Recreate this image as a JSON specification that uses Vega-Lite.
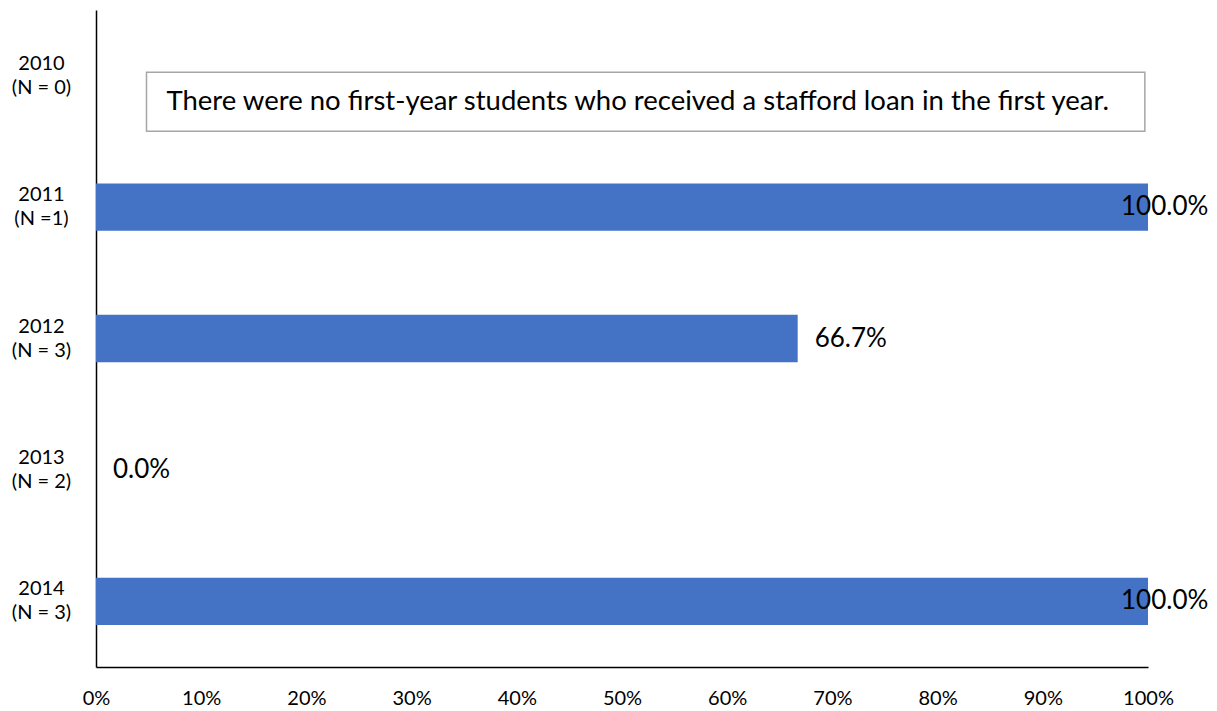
{
  "$schema": "https://vega.github.io/schema/vega-lite/v6.json",
  "width": 1052,
  "height": 657,
  "autosize": "none",
  "padding": {"left": 96, "top": 10, "right": 69, "bottom": 44},
  "background": "white",
  "config": {"view": {"stroke": null}, "font": "Lato"},
  "datasets": {
    "bars": [
      {"cat": "2011|(N =1)", "pct": 1.0, "label": "100.0%"},
      {"cat": "2012|(N = 3)", "pct": 0.667, "label": "66.7%"},
      {"cat": "2013|(N = 2)", "pct": 0.0, "label": "0.0%"},
      {"cat": "2014|(N = 3)", "pct": 1.0, "label": "100.0%"}
    ],
    "note": [
      {"cat": "2010|(N = 0)", "start": 0.048, "end": 0.997, "text": "There were no first-year students who received a stafford loan in the first year."}
    ]
  },
  "encoding": {
    "y": {
      "field": "cat", "type": "nominal",
      "scale": {"domain": ["2010|(N = 0)", "2011|(N =1)", "2012|(N = 3)", "2013|(N = 2)", "2014|(N = 3)"], "paddingInner": 0.64, "paddingOuter": 0.32},
      "axis": {
        "title": null, "labelExpr": "split(datum.value, '|')", "labelFontSize": 20, "labelLineHeight": 24,
        "labelAlign": "center", "labelPadding": 55, "labelOffset": -12, "ticks": false, "tickSize": 0, "domainColor": "black", "domainWidth": 1.5,
        "labelColor": "black", "labelFont": "Lato"
      }
    }
  },
  "layer": [
    {
      "data": {"name": "bars"},
      "mark": {"type": "bar", "color": "#4472C4"},
      "encoding": {
        "x": {
          "field": "pct", "type": "quantitative",
          "scale": {"domain": [0, 1], "nice": false},
          "axis": {"title": null, "format": ".0%", "values": [0,0.1,0.2,0.3,0.4,0.5,0.6,0.7,0.8,0.9,1], "labelOverlap": false, "grid": false, "ticks": false, "tickSize": 0, "labelPadding": 21, "labelFontSize": 20, "labelColor": "black", "domainColor": "black", "domainWidth": 1.5, "labelFlush": false}
        }
      }
    },
    {
      "data": {"name": "bars"},
      "transform": [{"filter": "datum.pct < 1"}],
      "mark": {"type": "text", "align": "left", "baseline": "middle", "dx": 17, "fontSize": 26, "color": "black"},
      "encoding": {"x": {"field": "pct", "type": "quantitative"}, "text": {"field": "label"}}
    },
    {
      "data": {"name": "bars"},
      "transform": [{"filter": "datum.pct >= 1"}],
      "mark": {"type": "text", "align": "left", "baseline": "middle", "dx": -27, "fontSize": 26, "color": "black"},
      "encoding": {"x": {"field": "pct", "type": "quantitative"}, "text": {"field": "label"}}
    },
    {
      "data": {"name": "note"},
      "mark": {"type": "bar", "fill": "white", "stroke": "#A6A6A6", "strokeWidth": 1.5, "height": 59, "yOffset": 26},
      "encoding": {"x": {"field": "start", "type": "quantitative"}, "x2": {"field": "end"}}
    },
    {
      "data": {"name": "note"},
      "mark": {"type": "text", "align": "left", "baseline": "middle", "dx": 20, "yOffset": 26, "fontSize": 27.5, "color": "black"},
      "encoding": {"x": {"field": "start", "type": "quantitative"}, "text": {"field": "text"}}
    }
  ]
}
